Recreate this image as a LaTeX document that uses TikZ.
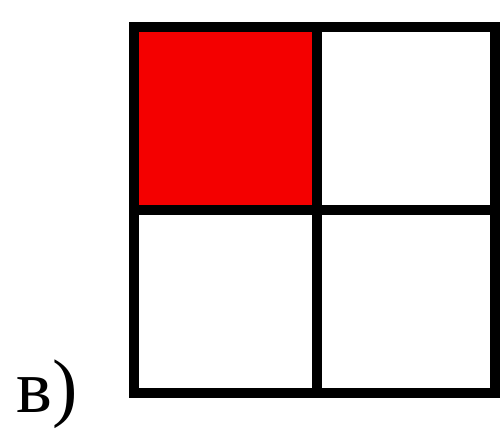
\documentclass[tikz,border=0pt]{standalone}
\usepackage{fontspec}
\usepackage{tikz}
\newfontfamily\labelfont{Liberation Serif}
\definecolor{ink}{HTML}{000000}
\definecolor{cellred}{HTML}{F40000}
\tikzset{
  cell/.style={draw=ink,line width=10pt,line join=miter},
  tag/.style={font=\labelfont\fontsize{76}{76}\selectfont,anchor=base west,inner sep=0pt,text=ink},
}
\begin{document}
\begin{tikzpicture}[x=1pt,y=-1pt]
  \useasboundingbox (0,0) rectangle (501,431);
  \fill[cellred] (134,27) rectangle (317,210);
  \draw[cell] (134,27) rectangle (495,393);
  \draw[cell] (317,27) -- (317,393);
  \draw[cell] (134,210) -- (495,210);
  \node[tag] (lbl) at (16,412) {в)};
\end{tikzpicture}
\end{document}
